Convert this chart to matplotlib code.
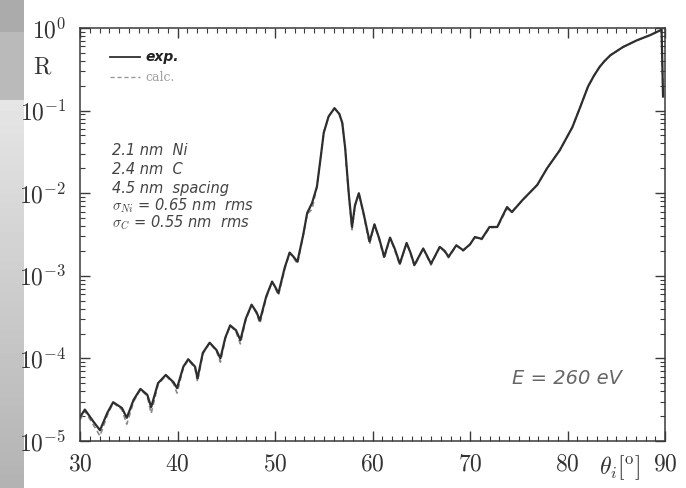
import numpy as np
import matplotlib
matplotlib.use("Agg")
import matplotlib.pyplot as plt
from matplotlib.ticker import FixedLocator, LogLocator, NullFormatter

plt.rcParams['mathtext.fontset'] = 'cm'
plt.rcParams['font.family'] = ['DejaVu Serif']

# ---- data ----
angles = [30.0, 30.5, 31.4, 32.05, 32.8, 33.4, 34.3, 34.8, 35.5, 36.2, 36.9, 37.3,
          38.0, 38.8, 39.6, 39.95, 40.6, 41.1, 41.8, 42.05, 42.6, 43.3, 44.0, 44.4,
          44.9, 45.4, 46.0, 46.45, 47.0, 47.6, 48.1, 48.45, 49.1, 49.7, 50.0, 50.35,
          51.0, 51.5, 51.9, 52.3, 52.9, 53.3,
          53.8, 54.3, 54.7, 55.0, 55.5, 56.1, 56.6, 56.9, 57.2,
          57.4, 57.6, 57.9, 58.2, 58.6, 59.1, 59.7, 60.2, 60.7, 61.2, 61.8, 62.3, 62.8,
          63.5, 63.9, 64.3, 65.2, 65.6, 66.0, 66.9, 67.4, 67.8, 68.6, 69.3, 70.0, 70.5,
          71.2, 72.0, 72.8, 73.3, 73.8, 74.3, 75.4, 76.9, 77.9, 79.2, 80.5, 81.3, 82.1,
          82.7, 83.3, 83.8, 84.4, 85.7, 87.1, 88.5, 89.3, 89.65, 89.8]

r_exp = [1.95e-5, 2.40e-5, 1.70e-5, 1.35e-5, 2.19e-5, 2.95e-5, 2.51e-5, 1.91e-5, 3.16e-5,
         4.27e-5, 3.63e-5, 2.57e-5, 5.01e-5, 6.31e-5, 5.13e-5, 4.37e-5, 7.94e-5, 9.77e-5,
         7.94e-5, 5.75e-5, 1.17e-4, 1.55e-4, 1.26e-4, 1.0e-4, 1.78e-4, 2.51e-4, 2.19e-4,
         1.66e-4, 3.02e-4, 4.47e-4, 3.63e-4, 2.88e-4, 5.62e-4, 8.51e-4, 7.41e-4, 6.17e-4,
         1.26e-3, 1.91e-3, 1.70e-3, 1.48e-3, 3.16e-3, 5.75e-3,
         7.6e-3, 1.2e-2, 2.8e-2, 5.4e-2, 8.5e-2, 1.07e-1, 9.1e-2, 7.1e-2, 3.5e-2,
         1.74e-2, 8.9e-3, 3.9e-3, 7.1e-3, 1.0e-2, 5.6e-3, 2.6e-3, 4.2e-3, 2.8e-3, 1.7e-3,
         2.9e-3, 2.1e-3, 1.4e-3, 2.5e-3, 1.9e-3, 1.35e-3, 2.14e-3, 1.74e-3, 1.4e-3,
         2.24e-3, 2.0e-3, 1.7e-3, 2.34e-3, 2.04e-3, 2.4e-3, 2.95e-3, 2.8e-3, 3.9e-3,
         3.9e-3, 5.2e-3, 6.8e-3, 5.9e-3, 8.3e-3, 1.26e-2, 2.0e-2, 3.3e-2, 6.3e-2, 1.10e-1,
         1.95e-1, 2.63e-1, 3.39e-1, 3.98e-1, 4.68e-1, 5.89e-1, 7.08e-1, 8.22e-1, 9.12e-1,
         9.5e-1, 1.48e-1]

r_calc = [1.8e-5, 2.3e-5, 1.55e-5, 1.15e-5, 2.05e-5, 2.9e-5, 2.4e-5, 1.6e-5, 3.0e-5,
          4.2e-5, 3.5e-5, 2.15e-5, 4.8e-5, 6.2e-5, 4.9e-5, 3.8e-5, 7.7e-5, 9.6e-5,
          7.6e-5, 5.2e-5, 1.13e-4, 1.55e-4, 1.22e-4, 9.0e-5, 1.72e-4, 2.5e-4, 2.1e-4,
          1.5e-4, 2.9e-4, 4.45e-4, 3.5e-4, 2.65e-4, 5.4e-4, 8.5e-4, 7.2e-4, 5.8e-4,
          1.2e-3, 1.9e-3, 1.65e-3, 1.4e-3, 3.1e-3, 5.6e-3,
          6.4e-3, 1.2e-2, 2.8e-2, 5.4e-2, 8.5e-2, 1.07e-1, 9.1e-2, 7.1e-2, 3.5e-2,
          1.6e-2, 8.5e-3, 3.6e-3, 7.0e-3, 1.0e-2, 5.4e-3, 2.4e-3, 4.2e-3, 2.7e-3, 1.6e-3,
          2.9e-3, 2.0e-3, 1.35e-3, 2.5e-3, 1.85e-3, 1.3e-3, 2.14e-3, 1.7e-3, 1.35e-3,
          2.24e-3, 1.95e-3, 1.65e-3, 2.34e-3, 2.0e-3, 2.4e-3, 2.9e-3, 2.75e-3, 3.8e-3,
          3.9e-3, 5.0e-3, 6.5e-3, 6.0e-3, 8.3e-3, 1.26e-2, 2.0e-2, 3.3e-2, 6.3e-2, 1.10e-1,
          1.95e-1, 2.63e-1, 3.39e-1, 3.98e-1, 4.68e-1, 5.89e-1, 7.08e-1, 8.22e-1, 9.12e-1,
          9.5e-1, 1.48e-1]

x_ticks = [30, 40, 50, 60, 70, 80, 90]
x_tick_labels = ['30', '40', '50', '60', '70', '80', '90']
y_ticks = [1e-5, 1e-4, 1e-3, 1e-2, 1e-1, 1e0]
y_tick_labels = [r'$10^{-5}$', r'$10^{-4}$', r'$10^{-3}$', r'$10^{-2}$', r'$10^{-1}$', r'$10^{0}$']

notes = ['2.1 nm  Ni', '2.4 nm  C', '4.5 nm  spacing',
         r'$\sigma_{Ni}$ = 0.65 nm  rms', r'$\sigma_{C}$ = 0.55 nm  rms']

W, H = 686, 488
fig = plt.figure(figsize=(W / 100, H / 100), dpi=100)
fig.patch.set_facecolor('white')

# gray strip on the left edge of the scan
strip = fig.add_axes([0, 0, 24 / W, 1])
col = np.empty((H, 1))
col[:32] = 0.67
col[32:100] = 0.73
col[100:] = np.linspace(0.90, 0.70, H - 100)[:, None]
strip.imshow(col, cmap='gray', vmin=0, vmax=1, aspect='auto', extent=[0, 1, 0, 1])
strip.axis('off')

ax = fig.add_axes([80 / W, 47 / H, 585 / W, 413 / H])
ax.set_yscale('log')
ax.set_xlim(30, 90)
ax.set_ylim(1e-5, 1)

ax.plot(angles, r_calc, color='#8a8a8a', lw=1.2, ls=(0, (3, 2)))
ax.plot(angles, r_exp, color='#2e2e2e', lw=1.6, solid_joinstyle='round')

for s in ax.spines.values():
    s.set_color('#3a3a3a')
    s.set_linewidth(1.1)

ax.xaxis.set_major_locator(FixedLocator(x_ticks))
ax.xaxis.set_minor_locator(FixedLocator(list(range(30, 91))))
ax.set_xticklabels([f'${t}$' for t in x_tick_labels])
ax.yaxis.set_major_locator(FixedLocator(y_ticks))
ax.set_yticklabels(y_tick_labels)
ax.yaxis.set_minor_locator(LogLocator(base=10, subs=np.arange(2, 10), numticks=20))
ax.yaxis.set_minor_formatter(NullFormatter())
ax.tick_params(which='both', direction='in', top=True, right=True, colors='#3a3a3a')
ax.tick_params(which='major', length=7, width=1.0, labelsize=17, labelcolor='#333333')
ax.tick_params(which='minor', length=3.5, width=0.8)
ax.tick_params(axis='x', which='major', pad=8)
ax.tick_params(axis='y', which='major', pad=10)

# axis labels
fig.text(43 / W, 1 - 67 / H, r'$\mathrm{R}$', fontsize=17, color='#333333', ha='center', va='center')
fig.text(620 / W, 1 - 468 / H, r'$\theta_i[^{\mathrm{o}}]$', fontsize=17, color='#333333',
         ha='center', va='center')

# legend (hand-drawn style)
ax.plot([33.1, 36.2], [0.445, 0.445], color='#2e2e2e', lw=1.3)
ax.plot([33.1, 36.2], [0.255, 0.255], color='#9a9a9a', lw=1.0, ls=(0, (3, 2)))
ax.text(36.7, 0.445, 'exp.', fontsize=10, style='italic', weight='bold', color='#222222',
        va='center', family='DejaVu Sans')
ax.text(36.7, 0.255, 'calc.', fontsize=9, color='#a0a0a0', va='center', family='DejaVu Serif')

# annotations
ys = [151, 169, 188, 206, 223]
for t, yp in zip(notes, ys):
    fig.text(112 / W, 1 - yp / H, t, fontsize=10.5, style='italic', color='#444444',
             va='center', family='DejaVu Sans')

fig.text(567 / W, 1 - 378 / H, 'E = 260 eV', fontsize=14, style='italic', color='#666666',
         ha='center', va='center', family='DejaVu Sans')

fig.savefig('out.png', dpi=100)
